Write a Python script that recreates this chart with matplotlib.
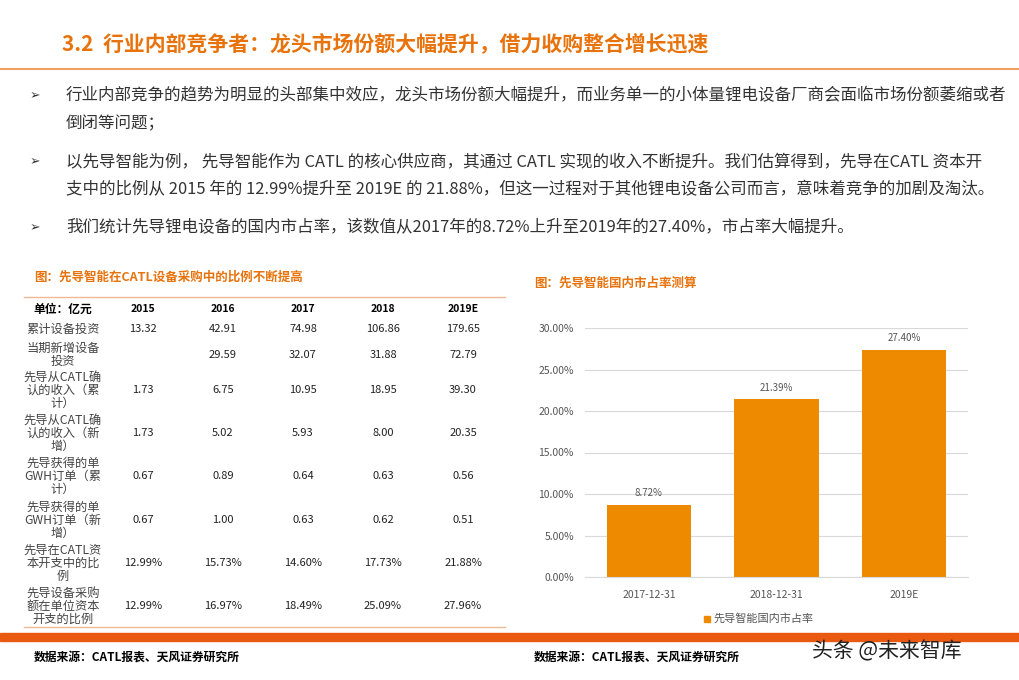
import matplotlib.pyplot as plt
from matplotlib.patches import Rectangle
from matplotlib.lines import Line2D

plt.rcParams['font.family'] = ['Noto Sans CJK SC', 'DejaVu Sans']

ORANGE = '#ED8A00'
TITLE_OR = '#E8730C'

# bar chart data
share_dates = ['2017-12-31', '2018-12-31', '2019E']
share_vals = [8.72, 21.39, 27.40]

# table data
years = ['2015', '2016', '2017', '2018', '2019E']
row_labels = ['累计设备投资', '当期新增设备\n投资', '先导从CATL确\n认的收入（累\n计）',
              '先导从CATL确\n认的收入（新\n增）', '先导获得的单\nGWH订单（累\n计）',
              '先导获得的单\nGWH订单（新\n增）', '先导在CATL资\n本开支中的比\n例',
              '先导设备采购\n额在单位资本\n开支的比例']
cum_invest = ['13.32', '42.91', '74.98', '106.86', '179.65']
new_invest = ['', '29.59', '32.07', '31.88', '72.79']
rev_cum = ['1.73', '6.75', '10.95', '18.95', '39.30']
rev_new = ['1.73', '5.02', '5.93', '8.00', '20.35']
order_cum = ['0.67', '0.89', '0.64', '0.63', '0.56']
order_new = ['0.67', '1.00', '0.63', '0.62', '0.51']
capex_ratio = ['12.99%', '15.73%', '14.60%', '17.73%', '21.88%']
unit_ratio = ['12.99%', '16.97%', '18.49%', '25.09%', '27.96%']
table_rows = [cum_invest, new_invest, rev_cum, rev_new, order_cum, order_new, capex_ratio, unit_ratio]

W, H = 1020, 680
fig = plt.figure(figsize=(W / 100, H / 100), dpi=100)


def fx(px):
    return px / W


def fy(py):
    return 1 - py / H


def txt(x, y, s, **kw):
    fig.text(fx(x), fy(y), s, **kw)


# header
txt(62, 44, '3.2  行业内部竞争者：龙头市场份额大幅提升，借力收购整合增长迅速',
    fontsize=15, color=TITLE_OR, fontweight='bold', va='center')
fig.add_artist(Line2D([0, 1], [fy(69), fy(69)], color='#F0A060', lw=1.5))

bullets = [
    (96, '行业内部竞争的趋势为明显的头部集中效应，龙头市场份额大幅提升，而业务单一的小体量锂电设备厂商会面临市场份额萎缩或者'),
    (124, '倒闭等问题；'),
    (162, '以先导智能为例， 先导智能作为 CATL 的核心供应商，其通过 CATL 实现的收入不断提升。我们估算得到，先导在CATL 资本开'),
    (190, '支中的比例从 2015 年的 12.99%提升至 2019E 的 21.88%，但这一过程对于其他锂电设备公司而言，意味着竞争的加剧及淘汰。'),
    (228, '我们统计先导锂电设备的国内市占率，该数值从2017年的8.72%上升至2019年的27.40%，市占率大幅提升。'),
]
for y, s in bullets:
    txt(66, y, s, fontsize=11.9, color='#333333', va='center')
for y in (96, 162, 228):
    txt(30, y, '➢', fontsize=9, color='#333333', va='center', family='DejaVu Sans')

# table
txt(34, 277, '图：先导智能在CATL设备采购中的比例不断提高', fontsize=9, color=TITLE_OR,
    fontweight='bold', va='center')
fig.add_artist(Line2D([fx(24), fx(505)], [fy(297), fy(297)], color='#F0B890', lw=1))
fig.add_artist(Line2D([fx(24), fx(505)], [fy(627), fy(627)], color='#F0B890', lw=1))
col_x = [143, 223, 303, 383, 463]
txt(63, 309, '单位：亿元', fontsize=8.5, fontweight='bold', ha='center', va='center')
for cx, yr in zip(col_x, years):
    txt(cx, 309, yr, fontsize=7.5, fontweight='bold', ha='center', va='center')
row_y = [329, 355, 390, 433, 476, 520, 563, 606]
for ry, lab, vals in zip(row_y, row_labels, table_rows):
    txt(63, ry, lab, fontsize=8.8, color='#444444', ha='center', va='center', linespacing=1.0)
    for cx, v in zip(col_x, vals):
        txt(cx, ry, v, fontsize=8, color='#222222', ha='center', va='center')

# bar chart
txt(534, 283, '图：先导智能国内市占率测算', fontsize=9, color=TITLE_OR,
    fontweight='bold', va='center')
ax = fig.add_axes([fx(585), fy(577), fx(968 - 585), (577 - 328) / H])
xs = range(len(share_dates))
bars = ax.bar(xs, share_vals, width=0.66, color=ORANGE)
for b, v in zip(bars, share_vals):
    ax.text(b.get_x() + b.get_width() / 2, v + 0.8, f'{v:.2f}%', ha='center',
            va='bottom', fontsize=7, color='#555555')
ax.set_ylim(0, 30)
ax.set_xlim(-0.5, 2.5)
ax.set_yticks(range(0, 31, 5))
ax.set_yticklabels([f'{t:.2f}%' for t in range(0, 31, 5)], fontsize=7.5, color='#555555')
ax.set_xticks(list(xs))
ax.set_xticklabels(share_dates, fontsize=7.5, color='#555555')
ax.tick_params(length=0, pad=8)
ax.tick_params(axis='x', pad=9)
for s in ('top', 'right', 'left'):
    ax.spines[s].set_visible(False)
ax.spines['bottom'].set_color('#D9D9D9')
ax.yaxis.grid(True, color='#D9D9D9', lw=0.8)
ax.set_axisbelow(True)
fig.add_artist(Rectangle((fx(704), fy(622)), fx(6), 6 / H, color=ORANGE))
txt(714, 618, '先导智能国内市占率', fontsize=8, color='#555555', va='center')

# footer
fig.add_artist(Rectangle((0, fy(641)), 1, 8 / H, color='#E95A10'))
txt(34, 657, '数据来源：CATL报表、天风证券研究所', fontsize=8.5, fontweight='bold', va='center')
txt(534, 657, '数据来源：CATL报表、天风证券研究所', fontsize=8.5, fontweight='bold', va='center')
txt(812, 651, '头条 @未来智库', fontsize=15, color='#222222', va='center')

fig.savefig('out.png', dpi=100)
